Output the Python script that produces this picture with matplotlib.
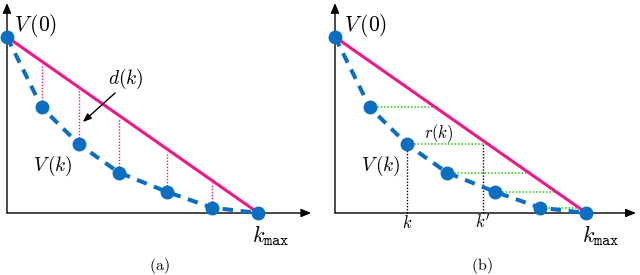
import matplotlib
matplotlib.use("Agg")
import matplotlib.pyplot as plt
import numpy as np

plt.rcParams['mathtext.fontset'] = 'cm'
plt.rcParams['font.family'] = ['DejaVu Serif']

# data (arbitrary units)
k_vals = [0.0, 0.83, 1.72, 2.67, 3.82, 4.90, 6.00]
V_vals = [1.00, 0.60, 0.39, 0.23, 0.12, 0.03, 0.0]
panel_labels = ['(a)', '(b)']

BLUE = '#0a6fc2'
PINK = '#f0168c'
GREEN = '#22cc00'

k = np.array(k_vals)
V = np.array(V_vals)
kmax = k[-1]

def line_V(x):
    return V[0] + (V[-1] - V[0]) * (x - k[0]) / (kmax - k[0])

def line_k(v):
    return k[0] + (v - V[0]) * (kmax - k[0]) / (V[-1] - V[0])

fig = plt.figure(figsize=(6.4, 2.75), dpi=100)
W, H = 640.0, 275.0
sx, sy = 41.9, 176.0  # px per unit

def make_axes(px0, px1, ox, oy=213.0):
    ax = fig.add_axes([px0 / W, 0, (px1 - px0) / W, 1])
    ax.set_xlim((px0 - ox) / sx, (px1 - ox) / sx)
    ax.set_ylim((oy - H) / sy, oy / sy)
    ax.axis('off')
    return ax

def draw_common(ax, xarrow):
    arrow = dict(arrowstyle='-|>,head_length=0.6,head_width=0.25', color='black',
                 lw=1.0, shrinkA=0, shrinkB=0)
    ax.annotate('', xy=(xarrow, 0), xytext=(0, 0), arrowprops=arrow, zorder=1)
    ax.annotate('', xy=(0, 1.193), xytext=(0, 0), arrowprops=arrow, zorder=1)
    ax.plot([k[0], kmax], [V[0], V[-1]], color=PINK, lw=2.2, zorder=3,
            solid_capstyle='butt')
    ax.plot(k, V, color=BLUE, lw=2.9, linestyle=(0, (2.6, 1.9)), zorder=4)
    ax.plot(k, V, 'o', color=BLUE, ms=9.0, zorder=5)

# panel (a)
axa = make_axes(0, 320, 7.0)
draw_common(axa, 7.26)
for xi, vi in zip(k[1:-1], V[1:-1]):
    axa.plot([xi, xi], [vi, line_V(xi) - 0.015], color=PINK, lw=1.0,
             linestyle=(0, (1, 1.2)), zorder=2)
axa.text(0.17, 1.068, r'$V\,(0)$', fontsize=15.5, ha='left', va='center')
axa.text(2.84, 0.761, r'$d(k)$', fontsize=14, ha='center', va='center')
axa.annotate('', xy=(1.81, 0.517), xytext=(2.58, 0.682),
             arrowprops=dict(arrowstyle='-|>,head_length=0.5,head_width=0.2',
                             color='black', lw=1.0, shrinkA=0, shrinkB=0))
axa.text(1.10, 0.267, r'$V\,(k)$', fontsize=14, ha='center', va='center')
axa.text(5.85, -0.131, r'$k_{\mathtt{max}}$', fontsize=16, ha='left', va='center')
axa.text(3.63, -0.30, r'$\mathrm{' + panel_labels[0] + '}$', fontsize=11.5,
         ha='center', va='center')

# panel (b)
axb = make_axes(320, 640, 335.0)
draw_common(axb, 7.18)
for xi, vi in zip(k[1:-1], V[1:-1]):
    axb.plot([xi + 0.1, line_k(vi) - 0.05], [vi, vi], color=GREEN, lw=1.1,
             linestyle=(0, (1, 1.2)), zorder=2)
kp = line_k(V[2]) - 0.12
axb.plot([k[2], k[2]], [0, V[2]], color='black', lw=1.0, linestyle=(0, (1, 1.2)), zorder=2)
axb.plot([kp, kp], [0, V[2]], color='black', lw=1.0, linestyle=(0, (1, 1.2)), zorder=2)
axb.text(0.22, 1.068, r'$V\,(0)$', fontsize=15.5, ha='left', va='center')
axb.text(2.48, 0.449, r'$r(k)$', fontsize=12, ha='center', va='center')
axb.text(1.10, 0.267, r'$V\,(k)$', fontsize=14, ha='center', va='center')
axb.text(k[2], -0.057, r'$k$', fontsize=12, ha='center', va='center')
axb.text(kp, -0.057, r"$k'$", fontsize=12, ha='center', va='center')
axb.text(5.89, -0.131, r'$k_{\mathtt{max}}$', fontsize=16, ha='left', va='center')
axb.text(3.51, -0.30, r'$\mathrm{' + panel_labels[1] + '}$', fontsize=11.5,
         ha='center', va='center')

fig.savefig('out.png', dpi=100)
